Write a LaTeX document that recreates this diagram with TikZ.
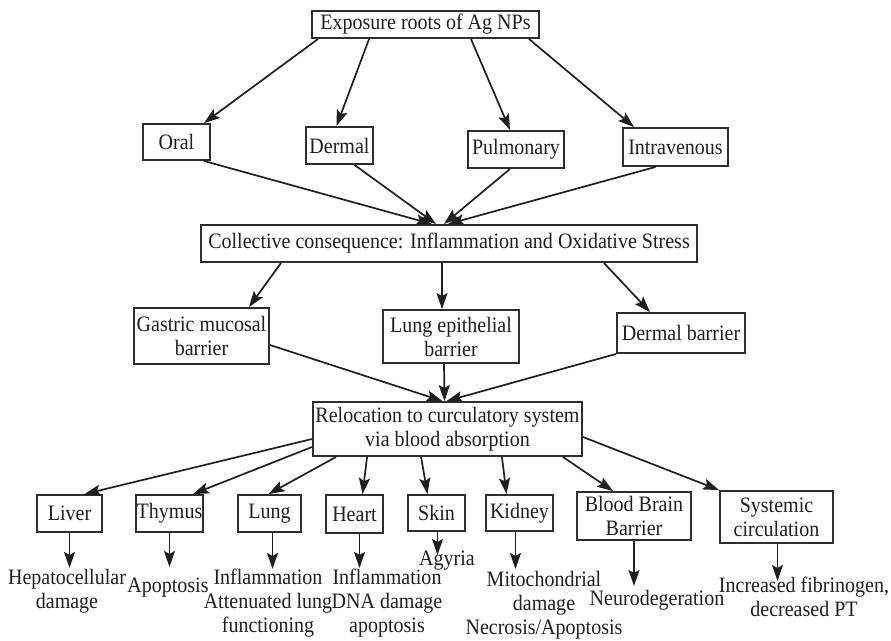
\documentclass[tikz,border=0pt]{standalone}
\usepackage{fontspec}
\setmainfont{Liberation Serif}[FakeStretch=0.91]
\usetikzlibrary{arrows.meta}
\definecolor{ink}{HTML}{1f1f1f}
\definecolor{edge}{HTML}{2e2e2e}
\begin{document}
\begin{tikzpicture}[x=1pt,y=-1pt,
  every node/.style={font=\fontsize{22}{24}\selectfont, text=ink},
  box/.style={draw=edge, line width=1.9pt, fill=white, inner sep=0pt, align=center},
  outcome/.style={inner sep=1pt, align=center, font=\fontsize{22}{24}\selectfont},
  link/.style={draw=ink, line width=1.7pt, -{Stealth[length=16pt,width=11pt,inset=3pt]}}
]
\path[use as bounding box] (0,0) rectangle (891,640);

% level 0: source
\node[box, minimum width=227pt, minimum height=27pt] (top) at (425.5,24.5) {Exposure roots of Ag NPs};

% level 1: exposure routes
\node[box, minimum width=67pt,  minimum height=36pt] (oral)   at (176.5,142)   {Oral};
\node[box, minimum width=67pt,  minimum height=37pt] (dermal) at (339.5,145.5) {Dermal};
\node[box, minimum width=96pt,  minimum height=37pt] (pulm)   at (516,149.5)   {Pulmonary};
\node[box, minimum width=105pt, minimum height=38pt] (intra)  at (675.5,147)   {Intravenous};

% level 2: common outcome
\node[box, minimum width=496pt, minimum height=37pt] (coll) at (449,243.5)
  {Collective consequence: Inflammation and Oxidative Stress};

% level 3: barriers
\node[box, minimum width=135pt, minimum height=56pt] (gastric) at (201.5,336) {Gastric mucosal\\barrier};
\node[box, minimum width=136pt, minimum height=53pt] (lungep)  at (451,336.5)  {Lung epithelial\\barrier};
\node[box, minimum width=128pt, minimum height=40pt] (dermb)   at (681,333)    {Dermal barrier};

% level 4: circulation
\node[box, minimum width=269pt, minimum height=54pt] (reloc) at (447.5,429)
  {Relocation to curculatory system\\via blood absorption};

% level 5: target organs
\node[box, minimum width=65pt,  minimum height=37pt] (liver)  at (69.5,513.5)  {Liver};
\node[box, minimum width=67pt,  minimum height=37pt] (thymus) at (169.5,513.5) {Thymus};
\node[box, minimum width=63pt,  minimum height=37pt] (lung)   at (269.5,513.5) {Lung};
\node[box, minimum width=57pt,  minimum height=38pt] (heart)  at (354.5,514)   {Heart};
\node[box, minimum width=57pt,  minimum height=36pt] (skin)   at (436.5,513)   {Skin};
\node[box, minimum width=67pt,  minimum height=36pt] (kidney) at (519.5,513)   {Kidney};
\node[box, minimum width=114pt, minimum height=48pt] (bbb)    at (634,516)     {Blood Brain\\Barrier};
\node[box, minimum width=113pt, minimum height=52pt] (syst)   at (776.5,517)   {Systemic\\circulation};

% level 6: effects
\node[outcome] (hep)    at (67,591)    {Hepatocellular\\damage};
\node[outcome] (apop)   at (168,588)   {Apoptosis};
\node[outcome] (lungo)  at (268,603.5) {Inflammation\\Attenuated lung\\functioning};
\node[outcome] (hearto) at (387,603.5) {Inflammation\\DNA damage\\apoptosis};
\node[outcome] (agyria) at (447,561)   {Agyria};
\node[outcome] (kidno)  at (544,605)   {Mitochondrial\\damage\\Necrosis/Apoptosis};
\node[outcome] (neuro)  at (657,600)   {Neurodegeration};
\node[outcome] (fib)    at (804,597)   {Increased fibrinogen,\\decreased PT};

% source to routes
\draw[link] ([xshift=7pt]top.south west)   -- ([xshift=-7pt]oral.north east);
\draw[link] ([xshift=58pt]top.south west)  -- ([xshift=-3pt]dermal.north);
\draw[link] ([xshift=-69pt]top.south east) -- ([xshift=-6pt]pulm.north);
\draw[link] ([xshift=-11pt]top.south east) -- ([xshift=12pt]intra.north west);

% routes to common outcome
\draw[link] ([xshift=-7pt]oral.south east) -- ([xshift=-17pt]coll.north);
\draw[link] ([xshift=15pt]dermal.south)    -- ([xshift=-13pt]coll.north);
\draw[link] ([xshift=-6pt]pulm.south)      -- ([xshift=-5pt]coll.north);
\draw[link] ([xshift=-20pt]intra.south)    -- ([xshift=-1pt]coll.north);

% common outcome to barriers
\draw[link] ([xshift=81pt]coll.south west)  -- ([xshift=-21pt]gastric.north east);
\draw[link] ([xshift=-7pt]coll.south)       -- ([xshift=-9pt]lungep.north);
\draw[link] ([xshift=-94pt]coll.south east) -- ([xshift=-31pt]dermb.north);

% barriers to circulation
\draw[link] ([yshift=-9pt]gastric.east)  -- ([xshift=-5pt]reloc.north);
\draw[link] ([xshift=-7pt]lungep.south)  -- ([xshift=-3pt]reloc.north);
\draw[link] (dermb.south west)           -- ([xshift=-1pt]reloc.north);

% circulation to organs
\draw[link] ([yshift=-10pt]reloc.west)       -- ([xshift=15pt]liver.north);
\draw[link] ([yshift=-18pt]reloc.west)       -- ([xshift=-11pt]thymus.north east);
\draw[link] ([xshift=24pt]reloc.south west)  -- ([xshift=-1pt]lung.north);
\draw[link] ([xshift=55pt]reloc.south west)  -- ([xshift=8pt]heart.north);
\draw[link] ([xshift=109pt]reloc.south west) -- ([xshift=-9pt]skin.north);
\draw[link] ([xshift=-81pt]reloc.south east) -- ([xshift=-13pt]kidney.north);
\draw[link] ([xshift=-20pt]reloc.south east) -- ([xshift=-21pt]bbb.north);
\draw[link] ([yshift=-8pt]reloc.east)        -- (syst.north west);

% organs to effects
\draw[link] (liver.south)  -- ++(0,35);
\draw[link] (thymus.south) -- ++(0,34);
\draw[link] ([xshift=3pt]lung.south)  -- ++(0,36);
\draw[link] ([xshift=5pt]heart.south) -- ++(0,34);
\draw[link] ([xshift=1pt]skin.south)  -- ++(0,23);
\draw[link] ([xshift=-4pt]kidney.south) -- ++(0,37);
\draw[link] (bbb.south)    -- ++(0,45);
\draw[link] ([xshift=1pt]syst.south)   -- ++(0,37);
\end{tikzpicture}
\end{document}
